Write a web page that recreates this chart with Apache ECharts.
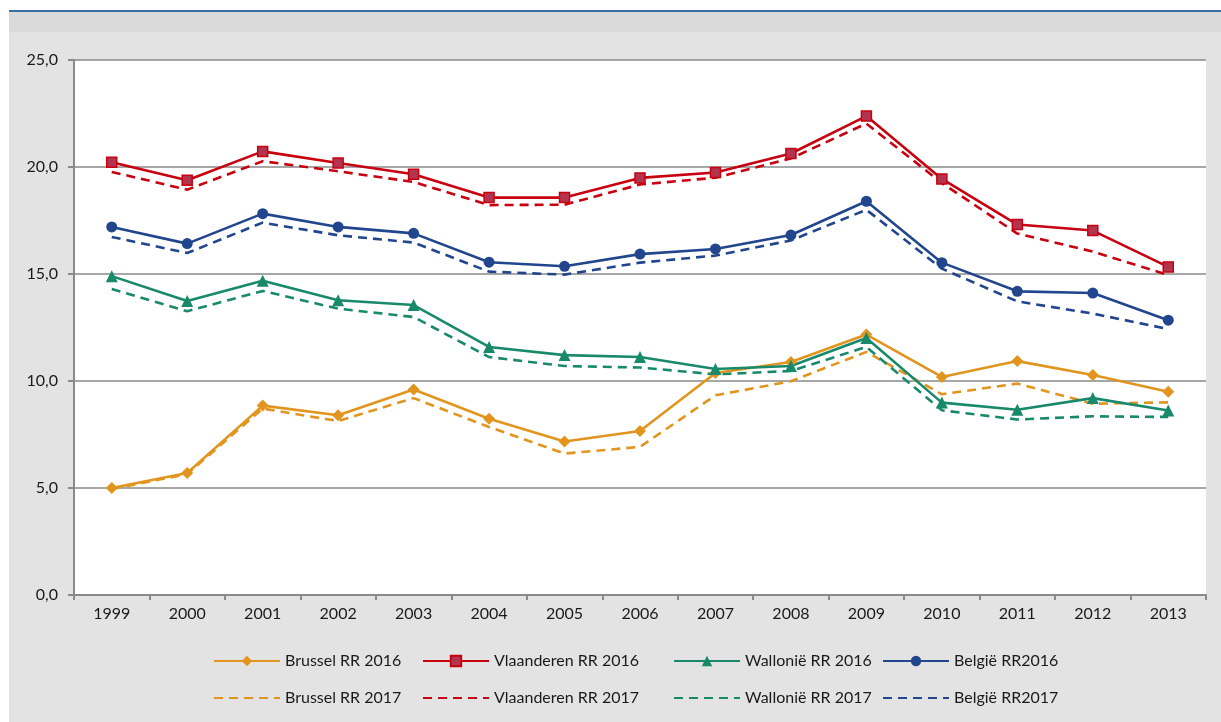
<!DOCTYPE html>
<html>
<head>
<meta charset="utf-8">
<script src="https://cdn.jsdelivr.net/npm/echarts@6/dist/echarts.min.js"></script>
<style>
  html, body { margin: 0; padding: 0; background: #ffffff; }
  #chart { width: 1221px; height: 722px; }
</style>
</head>
<body>
<div id="chart"></div>
<script>
const years = ['1999', '2000', '2001', '2002', '2003', '2004', '2005', '2006', '2007', '2008', '2009', '2010', '2011', '2012', '2013'];
const yTicks = [0, 5, 10, 15, 20, 25];

const brussel16 = [5.0, 5.7, 8.85, 8.4, 9.6, 8.24, 7.17, 7.66, 10.37, 10.89, 12.17, 10.19, 10.93, 10.28, 9.5];
const brussel17 = [4.95, 5.65, 8.71, 8.13, 9.2, 7.85, 6.61, 6.92, 9.33, 9.99, 11.36, 9.38, 9.88, 8.94, 9.0];
const vlaanderen16 = [20.22, 19.38, 20.73, 20.19, 19.66, 18.57, 18.57, 19.49, 19.74, 20.63, 22.38, 19.44, 17.31, 17.03, 15.33];
const vlaanderen17 = [19.77, 18.94, 20.27, 19.8, 19.3, 18.22, 18.24, 19.18, 19.5, 20.4, 22.03, 19.25, 16.89, 16.05, 14.95];
const wallonie16 = [14.9, 13.74, 14.69, 13.77, 13.55, 11.59, 11.21, 11.12, 10.56, 10.7, 12.01, 8.99, 8.66, 9.2, 8.62];
const wallonie17 = [14.3, 13.26, 14.21, 13.38, 12.99, 11.12, 10.7, 10.63, 10.31, 10.47, 11.59, 8.63, 8.2, 8.35, 8.32];
const belgie16 = [17.2, 16.42, 17.82, 17.2, 16.9, 15.55, 15.36, 15.93, 16.17, 16.82, 18.4, 15.53, 14.19, 14.11, 12.84];
const belgie17 = [16.73, 15.98, 17.4, 16.81, 16.47, 15.11, 14.97, 15.53, 15.86, 16.57, 18.0, 15.25, 13.72, 13.15, 12.43];

const FONT = 'Lato, "Open Sans", sans-serif';
const ORANGE = '#e1951f', RED = '#c8000f', GREEN = '#18896a', BLUE = '#21468e';

// solid series with marker
const solidLine = (name, data, color, symbol, size, fill) => ({
  name, type: 'line', data,
  symbol, symbolSize: size,
  lineStyle: { color, width: 2.6 },
  itemStyle: { color: fill || color, borderColor: color, borderWidth: fill ? 1.5 : 0 },
  z: 3
});
// dashed series, no marker
const dashLine = (name, data, color) => ({
  name, type: 'line', data,
  symbol: 'none',
  lineStyle: { color, width: 2.6, type: [9, 6] },
  itemStyle: { color },
  z: 2
});

const series = [
  dashLine('Brussel RR 2017', brussel17, ORANGE),
  dashLine('Vlaanderen RR 2017', vlaanderen17, RED),
  dashLine('Wallonië RR 2017', wallonie17, GREEN),
  dashLine('België RR2017', belgie17, BLUE),
  solidLine('Brussel RR 2016', brussel16, ORANGE, 'diamond', 12),
  solidLine('Vlaanderen RR 2016', vlaanderen16, RED, 'rect', 10, '#b2344f'),
  solidLine('Wallonië RR 2016', wallonie16, GREEN, 'triangle', 12),
  solidLine('België RR2016', belgie16, BLUE, 'circle', 11)
];

// legend items placed like the original two rows
const legendItems = [
  ['Brussel RR 2016', 213, 653, true], ['Vlaanderen RR 2016', 422, 653, true], ['Wallonië RR 2016', 673, 653, true], ['België RR2016', 882, 653, true],
  ['Brussel RR 2017', 213, 690, false], ['Vlaanderen RR 2017', 422, 690, false], ['Wallonië RR 2017', 673, 690, false], ['België RR2017', 882, 690, false]
];
const legends = legendItems.map(([name, left, top, marker]) => ({
  data: [marker ? { name } : { name, itemStyle: { opacity: 0 } }],
  left, top, padding: 0,
  itemWidth: 66, itemHeight: 13, itemGap: 0,
  selectedMode: false,
  textStyle: { fontFamily: FONT, fontSize: 16, color: '#1a1a1a' }
}));

const chart = echarts.init(document.getElementById('chart'), null, { renderer: 'canvas' });
chart.setOption({
  animation: false,
  backgroundColor: '#e3e3e3',
  graphic: [
    { type: 'rect', shape: { x: 0, y: 0, width: 1221, height: 10 }, style: { fill: '#ffffff' }, silent: true },
    { type: 'rect', shape: { x: 0, y: 0, width: 9, height: 722 }, style: { fill: '#ffffff' }, silent: true },
    { type: 'rect', shape: { x: 9, y: 12, width: 1212, height: 20 }, style: { fill: '#dadada' }, silent: true },
    { type: 'rect', shape: { x: 9, y: 10, width: 1212, height: 2 }, style: { fill: '#3a6ea5' }, silent: true }
  ],
  legend: legends,
  grid: { left: 74, right: 15, top: 60, bottom: 127, show: true, backgroundColor: '#ffffff', borderWidth: 0 },
  xAxis: {
    type: 'category',
    data: years,
    boundaryGap: true,
    axisLine: { lineStyle: { color: '#8a8a8a', width: 2 } },
    axisTick: { show: true, length: 5, lineStyle: { color: '#8a8a8a', width: 2 } },
    axisLabel: { fontFamily: FONT, fontSize: 16, color: '#1a1a1a', margin: 11 }
  },
  yAxis: {
    type: 'value',
    min: yTicks[0], max: yTicks[yTicks.length - 1], interval: 5,
    axisLine: { show: true, lineStyle: { color: '#8a8a8a', width: 2 } },
    axisTick: { show: true, length: 6, lineStyle: { color: '#8a8a8a', width: 2 } },
    splitLine: { lineStyle: { color: '#8a8a8a', width: 1.5 } },
    axisLabel: {
      fontFamily: FONT, fontSize: 16, color: '#1a1a1a', margin: 16,
      formatter: v => v.toFixed(1).replace('.', ',')
    }
  },
  series: series
});
</script>
</body>
</html>
